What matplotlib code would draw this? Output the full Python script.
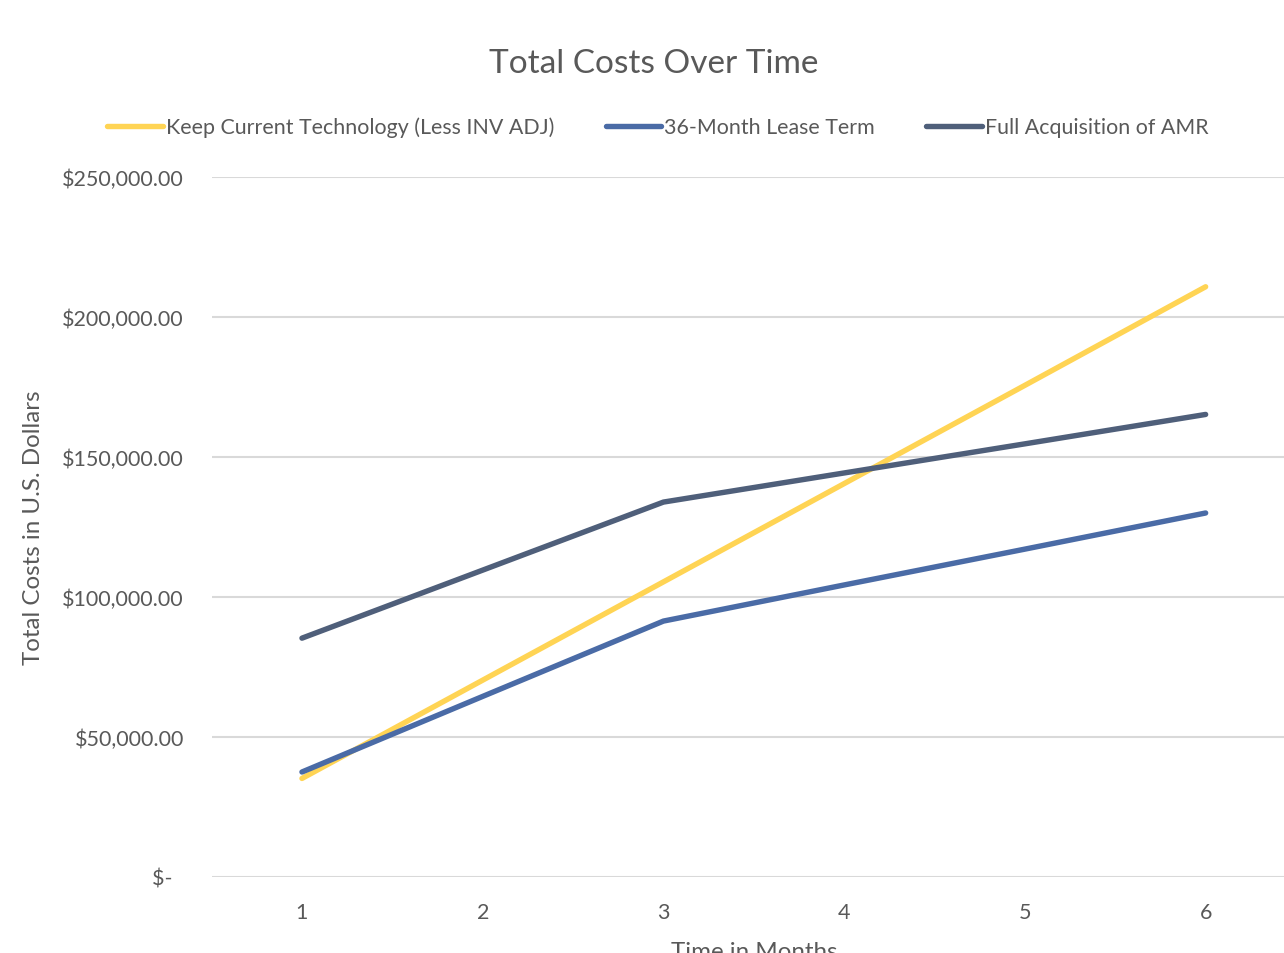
import matplotlib
matplotlib.use("Agg")
import matplotlib.pyplot as plt
from matplotlib.ticker import FuncFormatter, MultipleLocator

months = [1, 2, 3, 4, 5, 6]
keep_current = [35200, 70300, 105400, 140500, 175600, 210800]
lease_36 = [37500, 64500, 91400, 104300, 117100, 130000]
full_acq = [85300, 109600, 133900, 144300, 154700, 165200]

series_names = ["Keep Current Technology (Less INV ADJ)", "36-Month Lease Term", "Full Acquisition of AMR"]
colors = ["#FFD454", "#4A6BA6", "#4F5F7A"]

plt.rcParams['font.family'] = ['Lato', 'DejaVu Sans']
text_color = "#595959"

fig = plt.figure(figsize=(12.84, 9.54), dpi=100)
ax = fig.add_axes([211.6 / 1284, 76 / 954, (1296 - 211.6) / 1284, 700 / 954])

x_pos = list(range(len(months)))
for vals, name, c in zip([keep_current, lease_36, full_acq], series_names, colors):
    ax.plot(x_pos, vals, color=c, lw=3.9, solid_capstyle='round', solid_joinstyle='round', label=name, zorder=3)

ax.set_xlim(-0.5, len(months) - 0.5)
ax.set_ylim(0, 250000)
ax.yaxis.set_major_locator(MultipleLocator(50000))

def fmt(v, pos):
    if abs(v) < 1e-6:
        return "$-  "
    return "${:,.2f}".format(v)

ax.yaxis.set_major_formatter(FuncFormatter(fmt))
ax.set_xticks(x_pos)
ax.set_xticklabels([str(m) for m in months])
ax.grid(axis='y', color='#D9D9D9', lw=1.5, zorder=0)
ax.set_axisbelow(True)
for s in ax.spines.values():
    s.set_visible(False)
ax.tick_params(axis='both', length=0, colors=text_color, labelsize=15.5)
ax.tick_params(axis='y', pad=20)
ax.tick_params(axis='x', pad=18)

ax.set_ylabel("Total Costs in U.S. Dollars", fontsize=17.4, color=text_color, labelpad=13)
ax.set_xlabel("Time in Months", fontsize=17.4, color=text_color, labelpad=14)

fig.text(654 / 1284, 1 - 64 / 954, "Total Costs Over Time", ha='center', va='center', fontsize=24, color=text_color)

leg = fig.legend(loc='center', bbox_to_anchor=(658 / 1284, 1 - 128 / 954), ncol=3, frameon=False,
                 fontsize=15.4, handlelength=2.6, handletextpad=0.15, columnspacing=2.4)
for t in leg.get_texts():
    t.set_color(text_color)

fig.savefig("out.png", dpi=100, facecolor='white')
